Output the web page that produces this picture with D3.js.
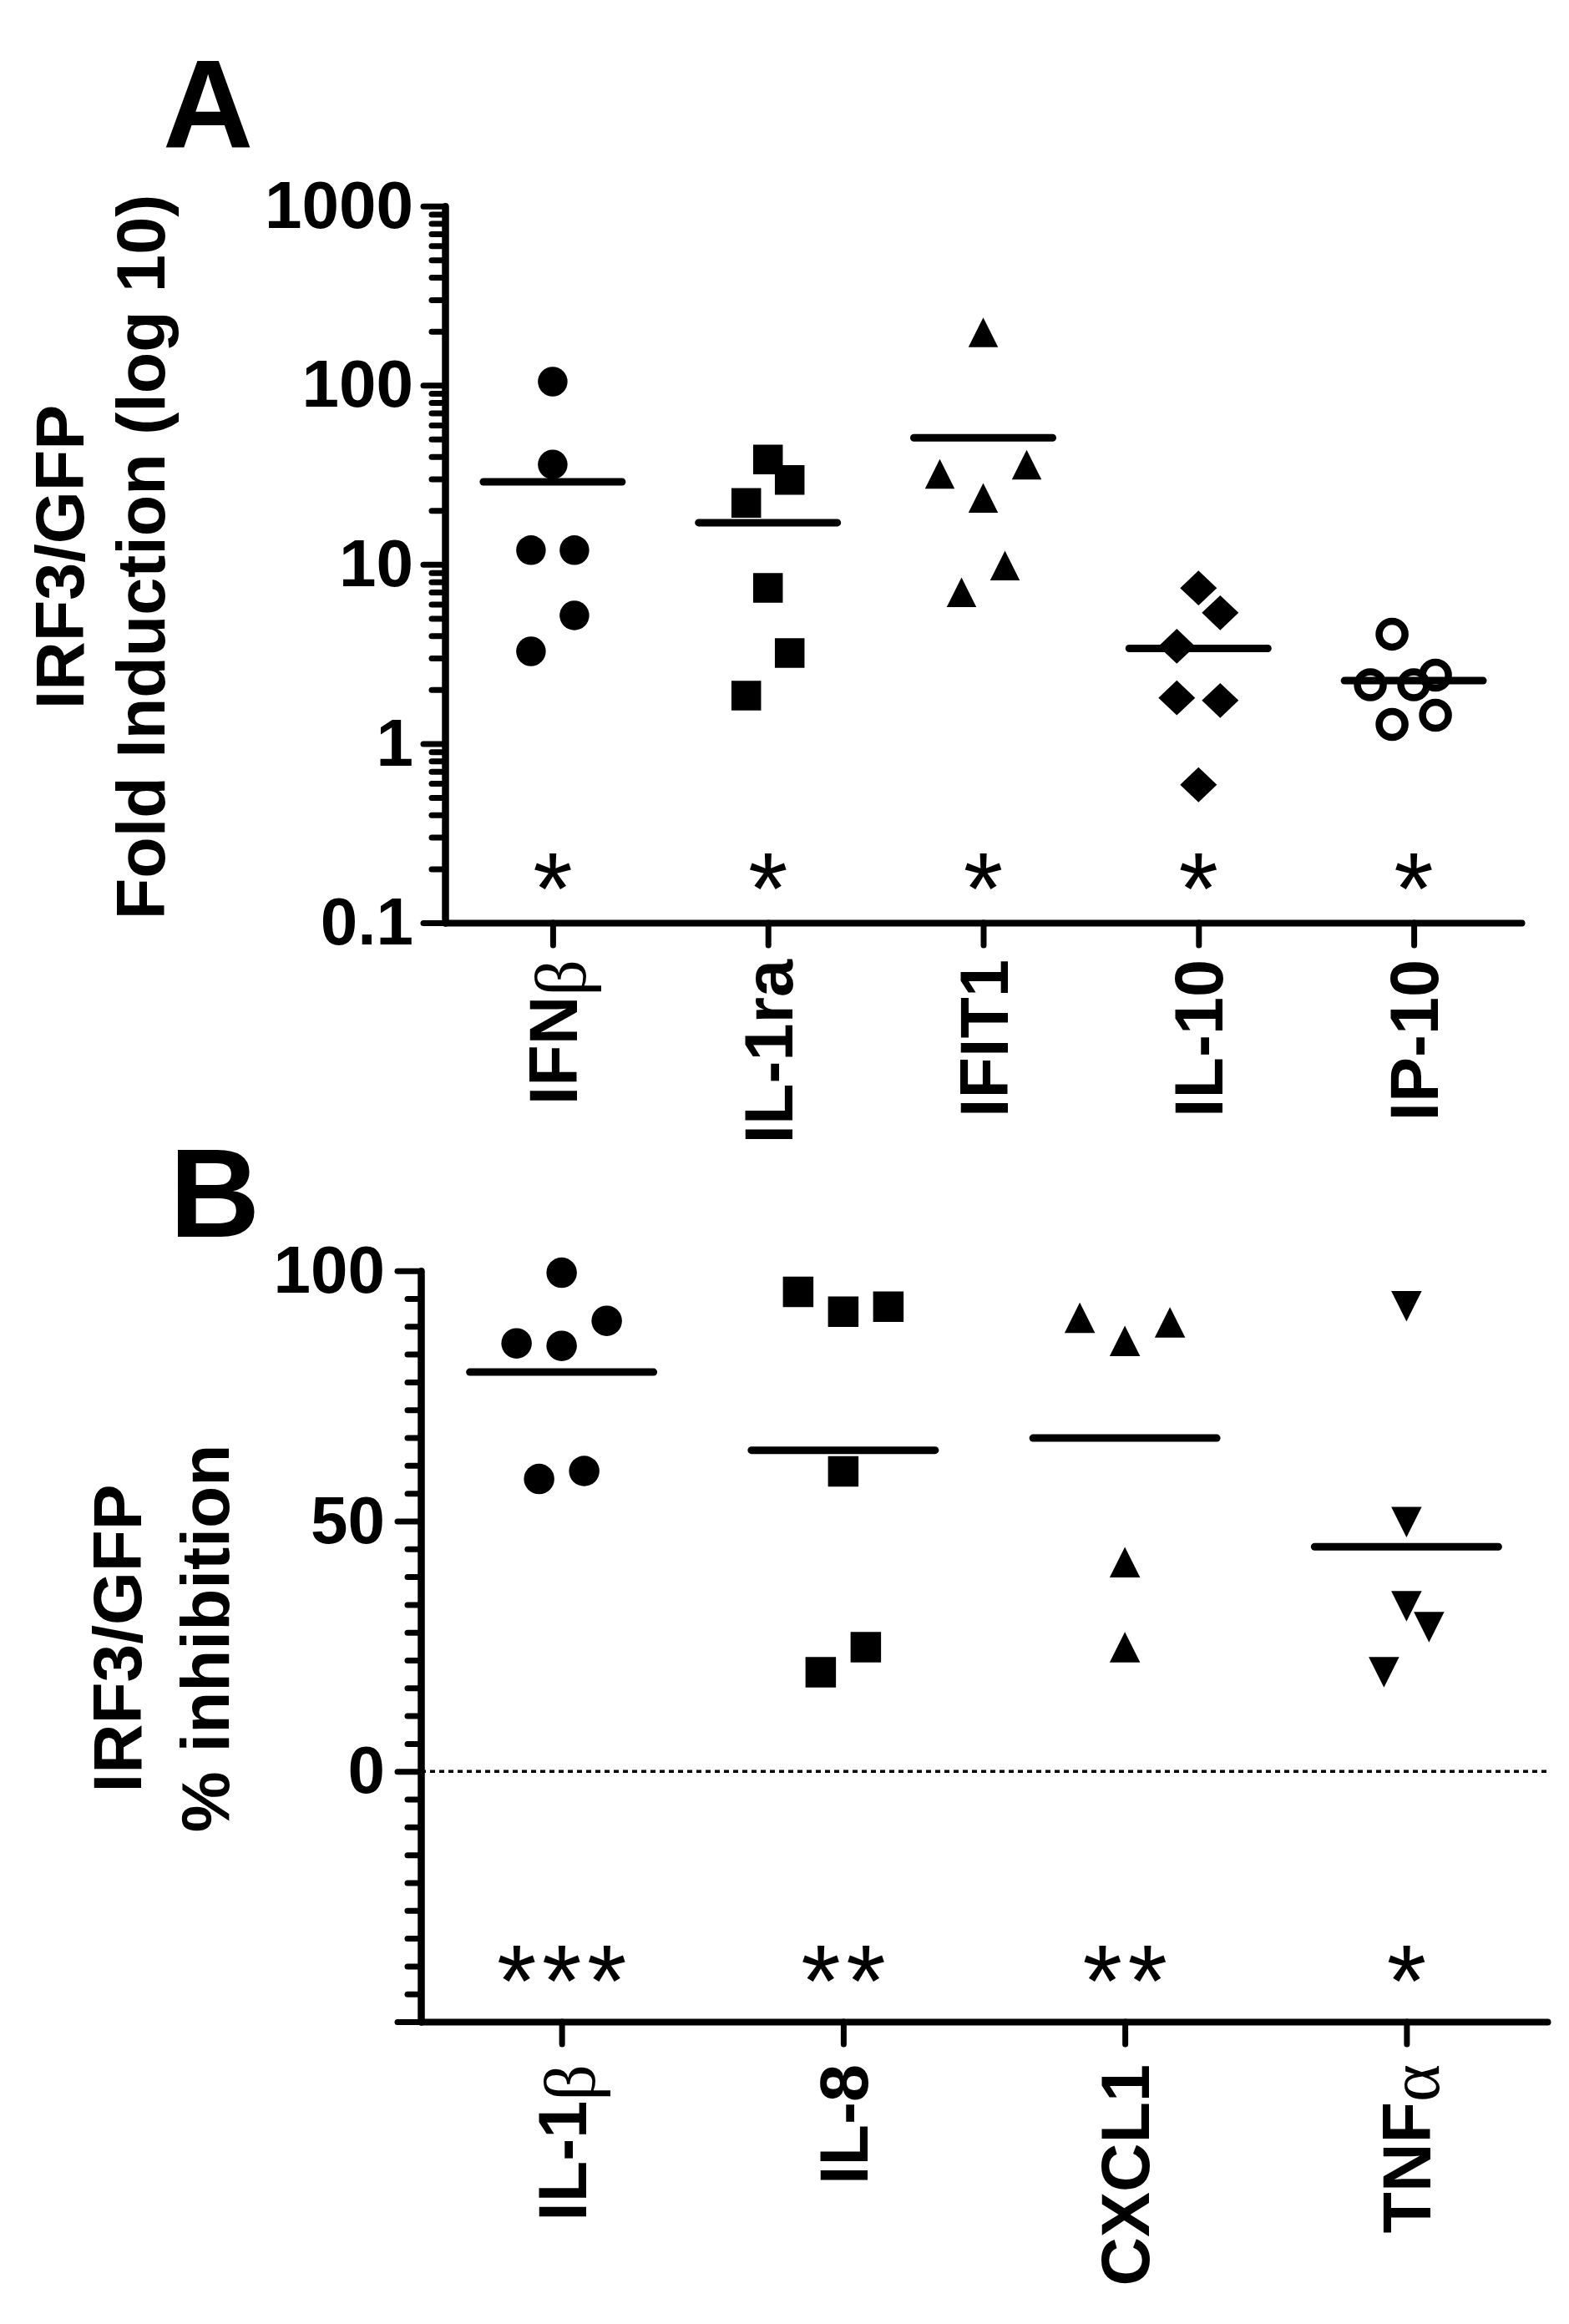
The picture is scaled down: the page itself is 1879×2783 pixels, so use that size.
<!DOCTYPE html>
<html>
<head>
<meta charset="utf-8">
<script src="https://cdn.jsdelivr.net/npm/d3@7"></script>
<style>
  body { margin: 0; background: #fff; }
  svg text { font-family: "Liberation Sans", Arial, sans-serif; }
</style>
</head>
<body>
<svg id="fig"></svg>
<script>
// ---- panel A data (fold induction, log scale)
var catsA = ["IFNβ", "IL-1ra", "IFIT1", "IL-10", "IP-10"];
var valuesA = [
    [104.7, 36.1, 12.0, 12.0, 5.19, 3.27],
    [38.5, 29.6, 22.0, 7.4, 3.2, 1.85],
    [197, 32, 36, 23.5, 9.85, 6.98],
    [7.38, 5.37, 3.49, 1.80, 1.74, 0.589],
    [4.08, 2.13, 2.13, 2.41, 1.28, 1.44]
];
// column-scatter slot of each point (left/right of the category centre)
var slotsA = [
    [0, 0, -1, 1, 1, -1],
    [0, 1, -1, 0, 1, -1],
    [0, -2, 2, 0, 1, -1],
    [0, 1, -1, -1, 1, 0],
    [-1, -2, 0, 1, -1, 1]
];
var starsA = [1, 1, 1, 1, 1];
var yTicksA = [0.1, 1, 10, 100, 1000];

// ---- panel B data (% inhibition)
var catsB = ["IL-1β", "IL-8", "CXCL1", "TNFα"];
var valuesB = [
    [99.6, 90.0, 85.5, 85.0, 58.4, 60.0],
    [95.8, 91.8, 92.8, 59.9, 19.8, 24.8],
    [90.6, 86.0, 89.7, 41.8, 24.8],
    [92.9, 49.8, 33.0, 28.8, 19.8]
];
var slotsB = [
    [0, 2, -2, 0, -1, 1],
    [-2, 0, 2, 0, -1, 1],
    [-2, 0, 2, 0, 0],
    [0, 0, 0, 1, -1]
];
var starsB = [3, 2, 2, 1];
var yTicksB = [0, 50, 100];

var shapesA = ["circle", "square", "triangle", "diamond", "ring"];
var shapesB = ["circle", "square", "triangle", "triangleDown"];

var W = 1879, H = 2783;
var fontBold = "bold";

var svg = d3.select("#fig").attr("width", W).attr("height", H);
svg.append("rect").attr("width", W).attr("height", H).attr("fill", "#fff");

function shapePath(kind, s) {
    var h = s / 2;
    switch (kind) {
        case "circle":
        case "ring":
            return "M" + h + ",0A" + h + "," + h + " 0 1 1 " + (-h) + ",0A" + h + "," + h + " 0 1 1 " + h + ",0Z";
        case "square":
            return "M" + (-h) + "," + (-h) + "H" + h + "V" + h + "H" + (-h) + "Z";
        case "triangle":
            return "M0," + (-h) + "L" + h + "," + h + "L" + (-h) + "," + h + "Z";
        case "triangleDown":
            return "M0," + h + "L" + h + "," + (-h) + "L" + (-h) + "," + (-h) + "Z";
        case "diamond":
            return "M0," + (-h * 0.95) + "L" + h + ",0L0," + (h * 0.95) + "L" + (-h) + ",0Z";
    }
}

function styleAxis(g) {
    g.attr("font-family", "Liberation Sans, Arial, sans-serif")
        .attr("font-weight", fontBold)
        .attr("font-size", 80);
    g.selectAll("path.domain").attr("stroke", "#000").attr("stroke-width", 8).attr("stroke-linecap", "round");
    g.selectAll(".tick line").attr("stroke", "#000").attr("stroke-width", 7).attr("stroke-linecap", "round");
    g.selectAll("text").attr("fill", "#000");
}

function drawPanel(p) {
    var g = svg.append("g");

    // y axis: minor ticks, then major ticks with labels
    var gMinor = g.append("g").attr("transform", "translate(" + p.left + ",0)")
        .call(d3.axisLeft(p.y).tickValues(p.minors).tickSize(16).tickSizeOuter(0).tickFormat(""));
    styleAxis(gMinor);
    var gMajor = g.append("g").attr("transform", "translate(" + p.left + ",0)")
        .call(d3.axisLeft(p.y).tickValues(p.majors).tickSize(p.majorLen).tickSizeOuter(0)
            .tickPadding(p.labelPad).tickFormat(p.fmt));
    styleAxis(gMajor);

    // x axis
    var gx = g.append("g").attr("transform", "translate(0," + p.bottom + ")")
        .call(d3.axisBottom(p.x).tickSize(27).tickSizeOuter(0).tickFormat(""));
    styleAxis(gx);

    if (p.zeroLine) {
        g.append("line")
            .attr("x1", p.left).attr("x2", p.x.range()[1])
            .attr("y1", p.y(0)).attr("y2", p.y(0))
            .attr("stroke", "#000").attr("stroke-width", 3.5)
            .attr("stroke-dasharray", "6,5");
    }

    var slot = d3.scaleLinear().domain([-1, 1]).range([-p.slotUnit, p.slotUnit]);

    p.cats.forEach(function (c, ci) {
        var cx = p.x(c);
        var pts = p.values[ci].map(function (v, i) { return { v: v, s: p.slots[ci][i] }; });
        var kind = p.shapes[ci];
        g.selectAll("path.pt-" + ci)
            .data(pts)
            .enter()
            .append("path")
            .attr("class", "pt-" + ci)
            .attr("d", shapePath(kind, kind === "ring" ? p.ringSize : (kind === "diamond" ? p.diamondSize : p.symSize)))
            .attr("transform", function (d) { return "translate(" + (cx + slot(d.s)) + "," + p.y(d.v) + ")"; })
            .attr("fill", kind === "ring" ? "none" : "#000")
            .attr("stroke", kind === "ring" ? "#000" : "none")
            .attr("stroke-width", kind === "ring" ? 8.5 : 0);

        // mean line
        var m = d3.mean(p.values[ci]);
        g.append("line")
            .attr("x1", cx - p.meanHalf).attr("x2", cx + p.meanHalf)
            .attr("y1", p.y(m)).attr("y2", p.y(m))
            .attr("stroke", "#000").attr("stroke-width", 9).attr("stroke-linecap", "round");

        // significance stars
        var n = p.stars[ci];
        d3.range(n).forEach(function (k) {
            g.append("text")
                .attr("x", cx + (k - (n - 1) / 2) * 54)
                .attr("y", p.starY + 68)
                .attr("text-anchor", "middle")
                .attr("font-size", 122)
                .text("*");
        });

        // rotated category label, greek suffix in a serif face
        var parts = c.match(/^(.*?)([\u03b1-\u03c9]?)$/);
        var t = g.append("text")
            .attr("transform", "translate(" + (cx + 29) + "," + p.labelEnd + ") rotate(-90)")
            .attr("text-anchor", "end")
            .attr("font-size", 81)
            .attr("font-weight", fontBold)
            .attr("fill", "#000");
        t.append("tspan").text(parts[1]);
        if (parts[2]) {
            t.append("tspan")
                .attr("font-family", "Liberation Serif, serif")
                .attr("font-weight", "normal")
                .attr("font-size", 86)
                .attr("dy", 10)
                .text(parts[2]);
        }
    });

    // y axis title (two lines)
    p.title.forEach(function (line, i) {
        svg.append("text")
            .attr("transform", "translate(" + p.titleX[i] + "," + p.titleY + ") rotate(-90)")
            .attr("text-anchor", "middle")
            .attr("font-size", p.titleSize)
            .attr("font-weight", fontBold)
            .text(line);
    });

    svg.append("text")
        .attr("x", p.letterX).attr("y", p.letterY)
        .attr("font-size", 150)
        .attr("font-weight", fontBold)
        .text(p.letter);
}

// ---- panel A
var minorsA = [];
[0.1, 1, 10, 100].forEach(function (d) {
    d3.range(2, 10).forEach(function (k) { minorsA.push(d * k); });
});
drawPanel({
    cats: catsA, values: valuesA, slots: slotsA, stars: starsA, shapes: shapesA,
    left: 533, bottom: 1105,
    x: d3.scalePoint().domain(catsA).range([533, 1822]).padding(0.5),
    y: d3.scaleLog().domain([0.1, 1000]).range([1105, 246.7]),
    majors: yTicksA, minors: minorsA, majorLen: 26, labelPad: 12,
    fmt: function (d) { return d < 1 ? d3.format(".1f")(d) : d3.format("d")(d); },
    slotUnit: 26, symSize: 35.5, diamondSize: 44, ringSize: 31,
    meanHalf: 83, starY: 1038, labelEnd: 1149,
    title: ["IRF3/GFP", "Fold Induction (log 10)"], titleX: [100, 197], titleY: 667, titleSize: 81,
    letter: "A", letterX: 195, letterY: 176
});

// ---- panel B
var minorsB = d3.range(-50, 100, 50 / 9).filter(function (d, i) { return i % 9 !== 0; });
drawPanel({
    cats: catsB, values: valuesB, slots: slotsB, stars: starsB, shapes: shapesB,
    left: 504, bottom: 2421,
    x: d3.scalePoint().domain(catsB).range([504, 1853]).padding(0.5),
    y: d3.scaleLinear().domain([-50, 100]).range([2421, 1521.7]),
    majors: [-50].concat(yTicksB), minors: minorsB, majorLen: 28, labelPad: 15,
    fmt: function (d) { return yTicksB.indexOf(d) >= 0 ? d3.format("d")(d) : ""; },
    slotUnit: 27, symSize: 36.5, diamondSize: 44, ringSize: 31,
    meanHalf: 110, starY: 2346, labelEnd: 2472, zeroLine: true,
    title: ["IRF3/GFP", "% inhibition"], titleX: [169, 274], titleY: 1962, titleSize: 82,
    letter: "B", letterX: 203, letterY: 1481
});
</script>
</body>
</html>
